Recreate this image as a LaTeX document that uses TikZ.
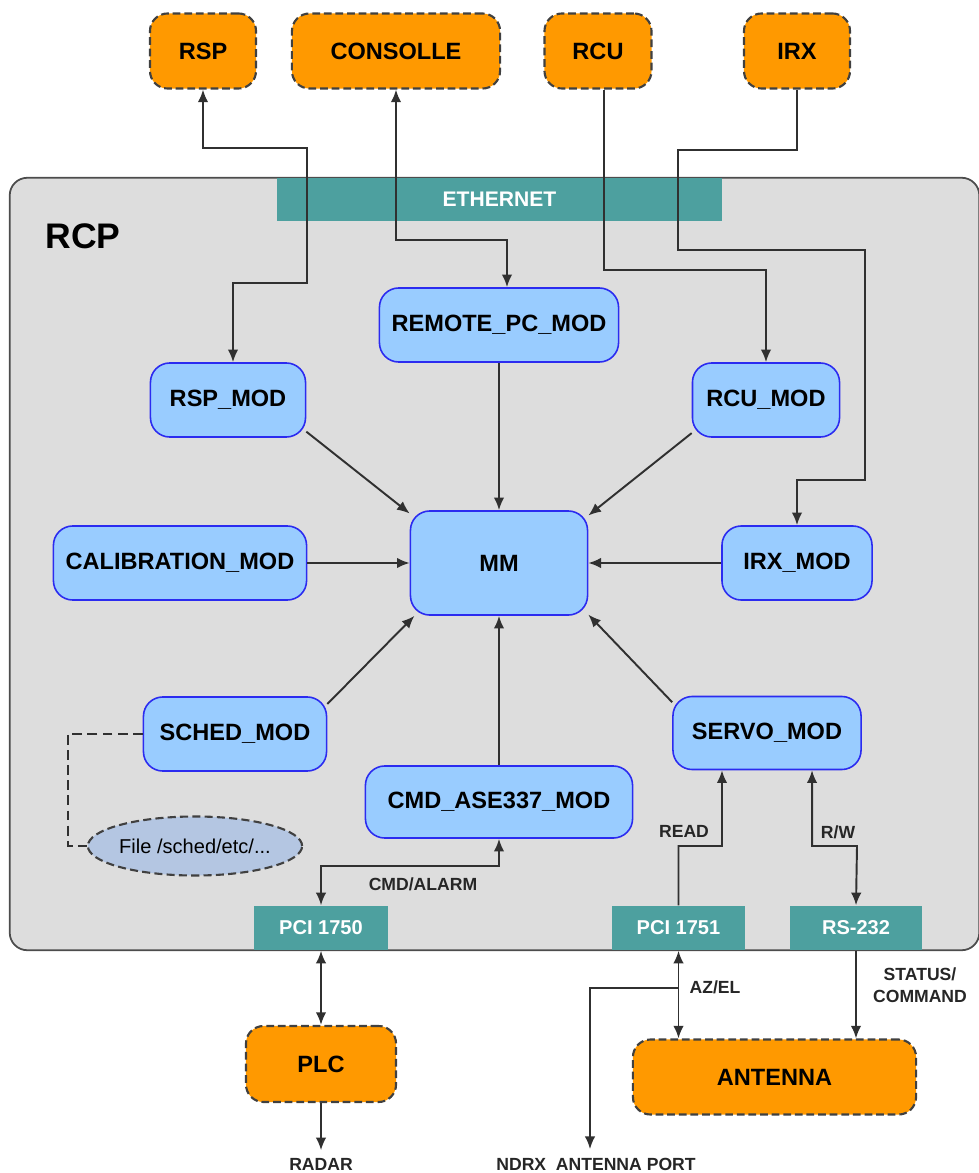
\documentclass[tikz,border=0pt]{standalone}
\usepackage{fontspec}
\setmainfont{Liberation Sans}
\usetikzlibrary{shapes.geometric,arrows.meta}

\definecolor{extorange}{HTML}{FF9900}
\definecolor{modblue}{HTML}{99CCFF}
\definecolor{modline}{HTML}{2B2BF0}
\definecolor{portteal}{HTML}{4DA09F}
\definecolor{rcpgray}{HTML}{DDDDDD}
\definecolor{fileblue}{HTML}{B4C6E2}
\definecolor{wiregray}{HTML}{303030}

\begin{document}
\begin{tikzpicture}[x=0.01cm, y=-0.01cm,
        >={Latex[length=3.6pt,width=3pt]},
        extbox/.style={rectangle, rounded corners=5pt, draw=black!75, line width=0.6pt, dash pattern=on 2.2pt off 1.1pt, fill=extorange, minimum height=0.75cm, font=\fontsize{6.7}{8}\selectfont\bfseries},
        modbox/.style={rectangle, rounded corners=5.5pt, draw=modline, line width=0.45pt, fill=modblue, minimum height=0.74cm, font=\fontsize{6.7}{8}\selectfont\bfseries},
        portbox/.style={rectangle, fill=portteal, text=white, minimum height=0.44cm, minimum width=1.33cm, font=\fontsize{5.7}{7}\selectfont\bfseries},
        lbl/.style={inner sep=0pt, text=black!85, font=\fontsize{5}{6.2}\selectfont\bfseries},
        wire/.style={draw=wiregray, line width=0.55pt}]
        \useasboundingbox (0,0) rectangle (978,1173);

        % RCP frame
        \node[rectangle, rounded corners=5pt, draw=black!70, line width=0.5pt, fill=rcpgray, minimum width=9.69cm, minimum height=7.72cm] at (494.5,564) (RCPB) {};
        \node[font=\fontsize{10.1}{12}\selectfont\bfseries] at (83,236) (RCP) {RCP};
        \node[rectangle, fill=portteal, text=white, minimum width=4.45cm, minimum height=0.43cm, font=\fontsize{6}{7}\selectfont\bfseries] at (499.5,199.5) (ETH) {ETHERNET};

        % external units
        \node[extbox, minimum width=1.06cm] at (203,51) (RSP) {RSP};
        \node[extbox, minimum width=2.08cm] at (396,51) (CONS) {CONSOLLE};
        \node[extbox, minimum width=1.07cm] at (598,51) (RCU) {RCU};
        \node[extbox, minimum width=1.06cm] at (797,51) (IRX) {IRX};
        \node[extbox, minimum width=1.50cm, minimum height=0.76cm] at (321,1064) (PLC) {PLC};
        \node[extbox, minimum width=2.83cm] at (774.5,1077) (ANT) {ANTENNA};

        % modules
        \node[modbox, minimum width=2.39cm] at (499,325) (REM) {REMOTE\_PC\_MOD};
        \node[modbox, minimum width=1.55cm] at (228,400) (RSPM) {RSP\_MOD};
        \node[modbox, minimum width=1.47cm] at (766,400) (RCUM) {RCU\_MOD};
        \node[modbox, minimum width=2.53cm] at (180,563) (CALM) {CALIBRATION\_MOD};
        \node[modbox, minimum width=1.77cm, minimum height=1.04cm] at (499,563) (MM) {MM};
        \node[modbox, minimum width=1.50cm] at (797,563) (IRXM) {IRX\_MOD};
        \node[modbox, minimum width=1.83cm] at (235,734) (SCHM) {SCHED\_MOD};
        \node[modbox, minimum width=2.67cm, minimum height=0.72cm] at (499,802) (CMDM) {CMD\_ASE337\_MOD};
        \node[modbox, minimum width=1.88cm, minimum height=0.73cm] at (767,733) (SERVM) {SERVO\_MOD};
        \node[ellipse, draw=black!75, line width=0.6pt, dash pattern=on 2.3pt off 1.2pt, fill=fileblue, minimum width=1.96cm, minimum height=0.59cm, inner sep=0pt, font=\fontsize{5.7}{7}\selectfont] at (195,846) (FILE) {File /sched/etc/...};

        % boards
        \node[portbox] at (321,928) (P50) {PCI 1750};
        \node[portbox] at (678.5,928) (P51) {PCI 1751};
        \node[portbox, minimum width=1.32cm] at (856,928) (RS) {RS-232};

        % labels
        \node[lbl] at (423,884) (LblCmd) {CMD/ALARM};
        \node[lbl] at (684,831) (LblRead) {READ};
        \node[lbl] at (838,832) (LblRW) {R/W};
        \node[lbl] at (715,987) (LblAz) {AZ/EL};
        \node[lbl, align=center] at (920,985) (LblStat) {STATUS/\\COMMAND};
        \node[lbl] at (321,1164) (RADAR) {RADAR};
        \node[lbl] at (596,1164) (NDRX) {NDRX\ \ ANTENNA PORT};
        \coordinate (AZJ) at (678.5,988);

        % ethernet links
        \draw[wire, <->] (RSP.south) |- (307,148) |- (233,283) -- ([xshift=.05cm]RSPM.north);
        \draw[wire, <->] (CONS.south) |- (507,240) -- ([xshift=.08cm]REM.north);
        \draw[wire, ->] ([xshift=.06cm]RCU.south) |- (766,270) -- (RCUM.north);
        \draw[wire, ->] (IRX.south) |- (678,150) |- (865,250) |- (797,480) -- (IRXM.north);

        % to MM
        \draw[wire, ->] (RSPM.-22) -- (MM.151);
        \draw[wire, ->] (REM) -- (MM);
        \draw[wire, ->] (RCUM.204) -- (MM.28);
        \draw[wire, ->] (CALM) -- (MM);
        \draw[wire, ->] (IRXM) -- (MM);
        \draw[wire, ->] (SCHM.18) -- (MM.212);
        \draw[wire, ->] (CMDM) -- (MM);
        \draw[wire, ->] (SERVM.162) -- (MM.-30);
        \draw[wire, dash pattern=on 2.8pt off 1.5pt] (SCHM.west) -| (68,846) -- (FILE.west);

        % boards
        \draw[wire, <->] (CMDM.south) |- (321,866) -- (P50.north);
        \draw[wire, ->] (P51.north) |- (722,846) -- ([xshift=-.45cm]SERVM.south);
        \draw[wire, <->] ([xshift=.45cm]SERVM.south) |- (857,846) -- (RS.north);

        % outside
        \draw[wire, <->] (P50.south) -- (PLC.north);
        \draw[wire, ->] (PLC.south) -- ([yshift=.07cm]RADAR.north);
        \draw[wire, <->] (P51.south) -- (P51.south |- ANT.north);
        \draw[wire, ->] (AZJ) -| ([xshift=-.06cm,yshift=.08cm]NDRX.north);
        \draw[wire, ->] (RS.south) -- (RS.south |- ANT.north);

    \end{tikzpicture}
\end{document}
